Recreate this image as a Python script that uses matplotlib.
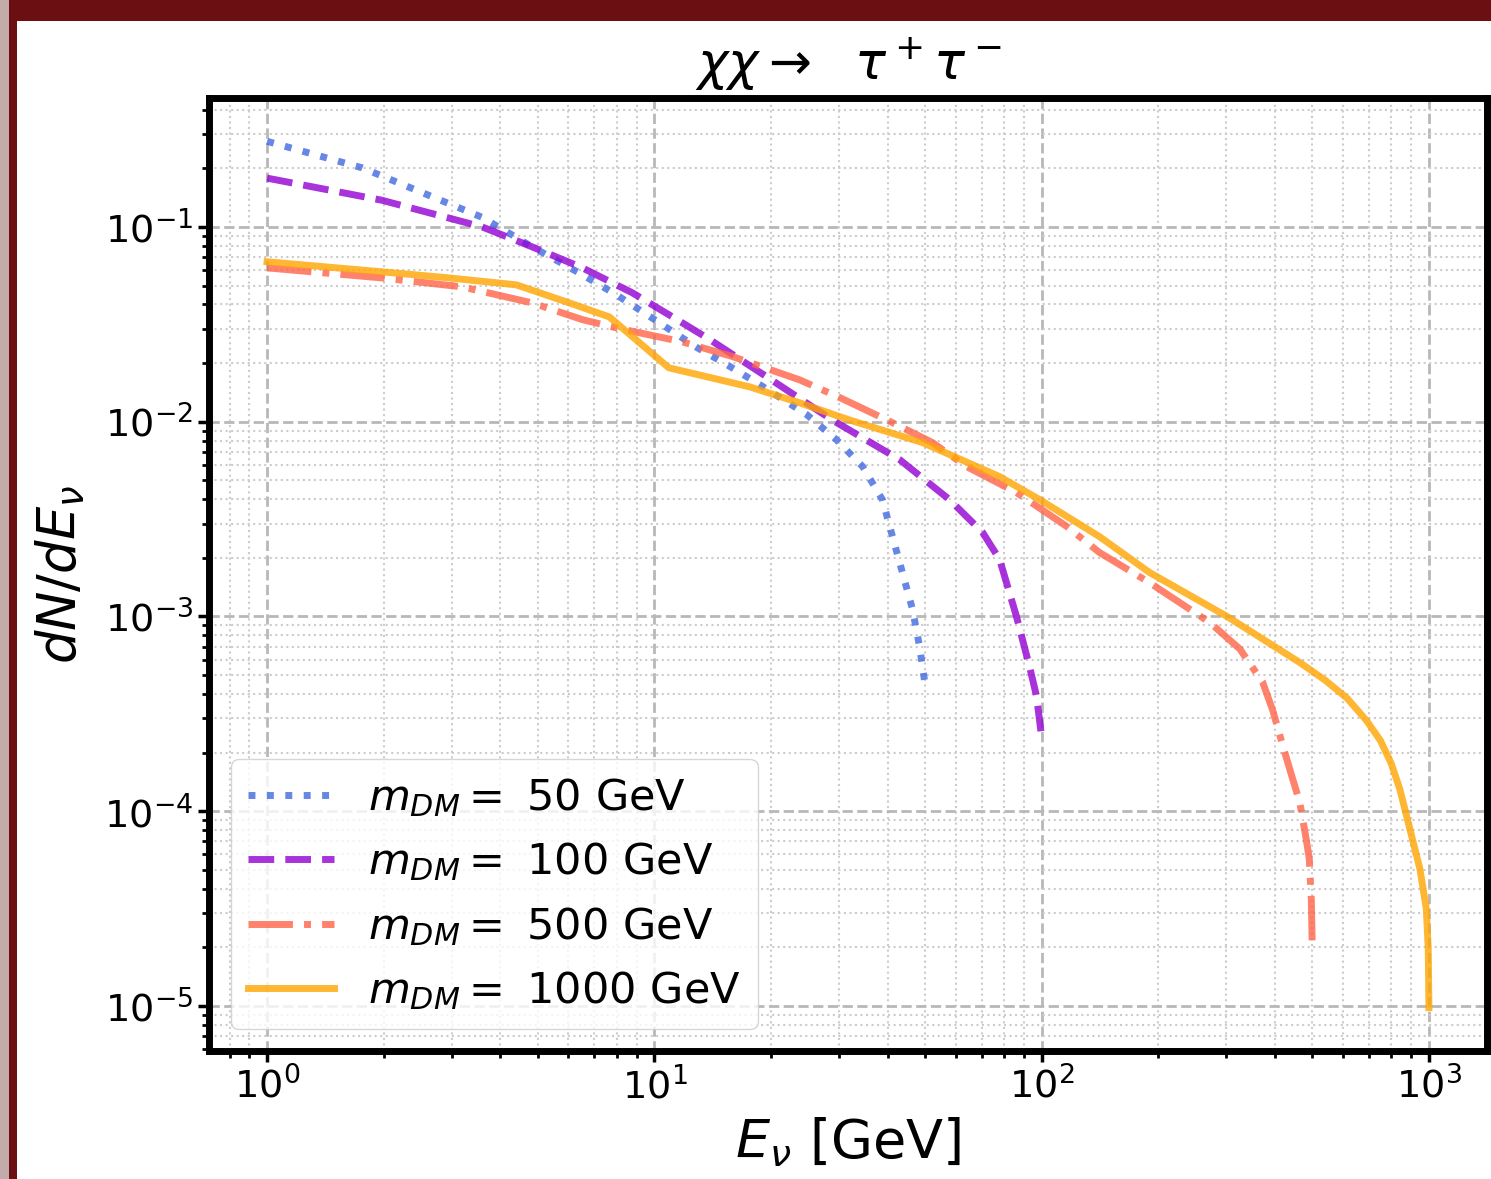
"""
Neutrino spectra dN/dE for chi chi -> tau+ tau-, four DM masses.
"""

import matplotlib.pyplot as plt
from matplotlib.patches import Rectangle

# m_DM = 50 GeV
e_50 = [1.0, 1.76, 3.59, 4.84, 6.52, 7.98, 10.5, 12.8, 15.4, 18.7, 24.7, 29.5,
        34.5, 38.8, 41.2, 43.7, 46.4, 48.4, 49.9]
dn_50 = [0.275, 0.201, 0.112, 0.0789, 0.0568, 0.0448, 0.0314, 0.0242, 0.0196,
         0.0155, 0.0109, 0.00809, 0.00588, 0.00398, 0.00257, 0.00168, 0.00109,
         7.0e-4, 4.6e-4]

# m_DM = 100 GeV
e_100 = [1.0, 1.98, 3.59, 4.84, 6.52, 8.77, 11.8, 13.9, 19.5, 28.8, 43.0, 57.8,
         70.4, 77.9, 86.1, 93.1, 97.0, 100.0]
dn_100 = [0.178, 0.137, 0.100, 0.0789, 0.0616, 0.0459, 0.0322, 0.0264, 0.0170,
          0.0102, 0.00638, 0.00398, 0.00270, 0.00196, 0.00100, 5.5e-4, 3.9e-4,
          2.4e-4]

# m_DM = 500 GeV
e_500 = [1.0, 1.98, 3.19, 4.84, 6.52, 7.98, 11.8, 15.9, 23.7, 30.1, 41.2, 52.3,
         64.0, 86.2, 116, 141, 190, 272, 325, 372, 395, 420, 445, 464, 482,
         491, 497, 500]
dn_500 = [0.0616, 0.0547, 0.0492, 0.0407, 0.0334, 0.0303, 0.0257, 0.0216,
          0.0164, 0.0133, 0.00988, 0.00780, 0.00588, 0.00432, 0.00290, 0.00213,
          0.00149, 9.3e-4, 6.8e-4, 4.6e-4, 3.3e-4, 2.15e-4, 1.46e-4, 1.11e-4,
          7.2e-5, 5.7e-5, 3.5e-5, 1.96e-5]

# m_DM = 1000 GeV
e_1000 = [1.0, 1.98, 2.95, 4.40, 5.93, 7.65, 10.9, 17.6, 23.7, 31.9, 49.3, 77.9,
          98.8, 141, 190, 301, 464, 540, 615, 692, 750, 800, 841, 893, 948, 985,
          996, 1000]
dn_1000 = [0.0662, 0.0588, 0.0547, 0.0504, 0.0412, 0.0345, 0.0189, 0.0151,
           0.0125, 0.0102, 0.00780, 0.00522, 0.00398, 0.00257, 0.00168, 0.00100,
           5.8e-4, 4.7e-4, 3.8e-4, 2.9e-4, 2.3e-4, 1.75e-4, 1.30e-4, 8.1e-5,
           5.05e-5, 3.14e-5, 1.96e-5, 9.8e-6]

masses = [50, 100, 500, 1000]
colors = ["royalblue", "darkviolet", "tomato", "orange"]
styles = [":", "--", "-.", "-"]


def main():
    fig = plt.figure(figsize=(14.91, 11.79), dpi=100, facecolor="#6b0f12")
    W, H = 1491, 1179
    # screenshot frame: pale strip on the left, white page below the red bar
    fig.patches.append(Rectangle((0, 0), 9 / W, 1, transform=fig.transFigure,
                                 facecolor="#c3abab", edgecolor="none", zorder=-10))
    fig.patches.append(Rectangle((17 / W, 0), 1, 1 - 21 / H, transform=fig.transFigure,
                                 facecolor="white", edgecolor="none", zorder=-10))

    ax = fig.add_axes([209 / W, 1 - 1051 / H, (1487 - 209) / W, (1051 - 98) / H])

    xs = [e_50, e_100, e_500, e_1000]
    ys = [dn_50, dn_100, dn_500, dn_1000]
    for x, y, m, c, ls in zip(xs, ys, masses, colors, styles):
        ax.plot(x, y, ls, color=c, lw=5, alpha=0.8,
                label=r"$m_{DM} =$ " + f"{m} GeV")

    ax.set_xscale("log")
    ax.set_yscale("log")

    ax.grid(True, which="major", ls="--", color="#b8b8b8", lw=2)
    ax.grid(True, which="minor", ls=":", color="#cccccc", lw=1.5)

    for s in ax.spines.values():
        s.set_linewidth(5)
    ax.tick_params(which="major", length=8, width=2.5, labelsize=27.5)
    ax.tick_params(which="minor", length=5, width=2)

    ax.set_xlabel(r"$E_{\nu}$ [GeV]", fontsize=39, labelpad=6)
    ax.set_ylabel(r"$dN/dE_{\nu}$", fontsize=38, labelpad=12)
    ax.set_title(r"$\chi\chi\rightarrow\ \ \tau^+\tau^-$", fontsize=37, pad=14)

    ax.legend(loc="lower left", fontsize=31, borderaxespad=0.5)

    fig.savefig("out.png", dpi=100, facecolor=fig.get_facecolor())


if __name__ == "__main__":
    main()
